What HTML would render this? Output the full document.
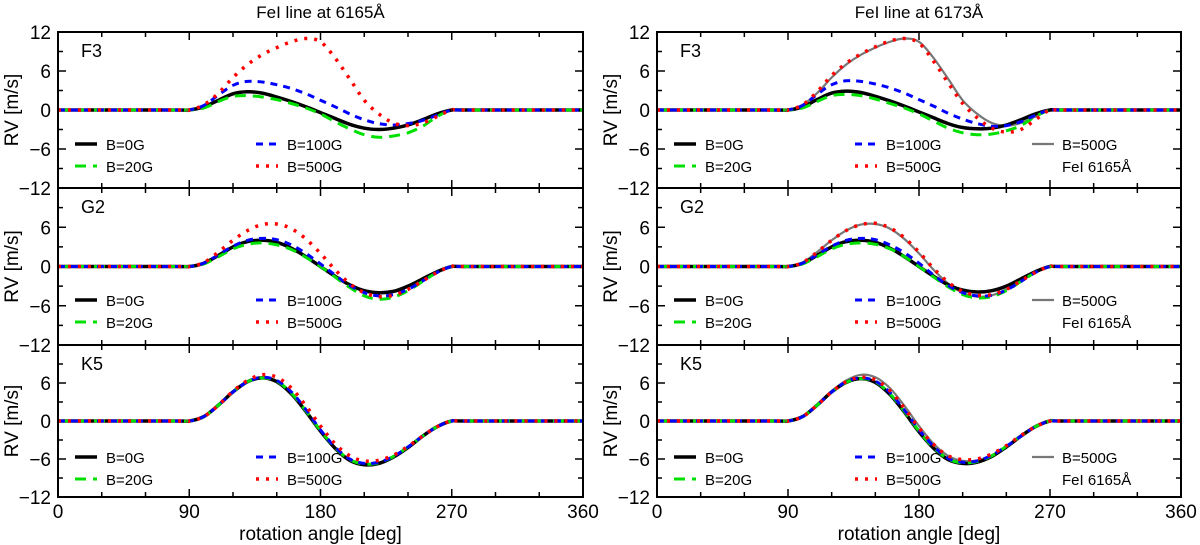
<!DOCTYPE html>
<html><head><meta charset="utf-8"><style>
body{margin:0;background:#fff;}
svg{display:block;font-family:"Liberation Sans",sans-serif;}
</style></head><body>
<svg id="fig" width="1200" height="545" xmlns="http://www.w3.org/2000/svg"></svg>
<script>
const angles=[0,80,90,100,110,120,130,140,150,160,170,180,190,200,210,220,230,240,250,260,270,280,360];
// F3 6165
const f3a_b0=[0,0,0,0.5,1.5,2.5,2.8,2.6,2.0,1.3,0.5,-0.4,-1.3,-2.2,-2.8,-3.0,-2.8,-2.3,-1.5,-0.6,0,0,0];
const f3a_b20=[0,0,0,0.3,1.3,2.1,2.2,2.0,1.6,1.0,0.3,-0.6,-1.8,-2.9,-3.8,-4.2,-4.0,-3.5,-2.5,-1.0,0,0,0];
const f3a_b100=[0,0,0,0.7,2.3,3.8,4.4,4.3,3.9,3.3,2.5,1.5,0.5,-0.6,-1.5,-2.1,-2.3,-2.1,-1.6,-0.8,0,0,0];
const f3a_b500=[0,0,0,0.8,2.6,5.0,7.0,8.5,9.6,10.5,11.0,10.5,8.0,4.8,1.5,-0.6,-2.0,-2.4,-2.0,-1.0,0,0,0];
// F3 6173
const f3b_b0=[0,0,0,0.5,1.6,2.6,2.9,2.7,2.1,1.4,0.6,-0.3,-1.2,-2.1,-2.7,-2.9,-2.8,-2.3,-1.5,-0.6,0,0,0];
const f3b_b20=[0,0,0,0.3,1.3,2.2,2.4,2.2,1.7,1.0,0.3,-0.6,-1.7,-2.8,-3.5,-3.8,-3.7,-3.2,-2.4,-1.0,0,0,0];
const f3b_b100=[0,0,0,0.7,2.4,3.9,4.5,4.4,4.0,3.4,2.6,1.6,0.6,-0.5,-1.4,-2.1,-2.5,-2.4,-1.8,-0.8,0,0,0];
const f3b_b500=[0,0,0,0.8,2.8,5.3,7.2,8.6,9.7,10.6,11.0,10.3,7.5,4.2,1.0,-1.2,-2.8,-3.4,-3.0,-1.5,0,0,0];
// G2 6165
const g2a_b0=[0,0,0,0.5,1.7,3.0,3.8,4.0,3.7,2.8,1.5,0,-1.5,-2.8,-3.7,-4.0,-3.8,-3.0,-1.9,-0.8,0,0,0];
const g2a_b20=[0,0,0,0.4,1.5,2.7,3.4,3.6,3.3,2.6,1.4,0,-1.6,-3.2,-4.5,-5.0,-4.7,-3.7,-2.3,-0.9,0,0,0];
const g2a_b100=[0,0,0,0.5,1.8,3.1,4.0,4.3,4.1,3.3,2.0,0.4,-1.3,-2.9,-4.0,-4.5,-4.3,-3.5,-2.2,-0.9,0,0,0];
const g2a_b500=[0,0,0,0.6,2.2,4.0,5.5,6.4,6.5,5.8,4.2,2.0,-0.5,-2.6,-4.0,-4.6,-4.4,-3.5,-2.2,-0.9,0,0,0];
// G2 6173
const g2b_b0=[0,0,0,0.5,1.7,3.0,3.8,4.0,3.7,2.8,1.5,0,-1.5,-2.8,-3.6,-3.9,-3.7,-3.0,-1.9,-0.8,0,0,0];
const g2b_b20=[0,0,0,0.4,1.5,2.7,3.4,3.6,3.4,2.7,1.5,0,-1.6,-3.1,-4.3,-4.8,-4.6,-3.7,-2.3,-0.9,0,0,0];
const g2b_b100=[0,0,0,0.5,1.8,3.1,4.0,4.3,4.1,3.3,2.1,0.5,-1.3,-2.9,-4.0,-4.5,-4.4,-3.6,-2.3,-0.9,0,0,0];
const g2b_b500=[0,0,0,0.6,2.2,4.0,5.5,6.4,6.6,5.9,4.4,2.2,-0.3,-2.4,-3.8,-4.4,-4.3,-3.5,-2.2,-0.9,0,0,0];
// K5 6165
const k5a_b0=[0,0,0,0.7,2.5,4.6,6.2,6.8,6.2,4.3,1.5,-1.6,-4.3,-6.2,-6.9,-6.7,-5.7,-4.2,-2.4,-0.9,0,0,0];
const k5a_b20=[0,0,0,0.7,2.5,4.6,6.2,6.8,6.3,4.4,1.6,-1.5,-4.2,-6.1,-6.8,-6.6,-5.6,-4.1,-2.4,-0.9,0,0,0];
const k5a_b100=[0,0,0,0.7,2.5,4.6,6.2,6.9,6.4,4.6,1.8,-1.4,-4.1,-6.0,-6.7,-6.5,-5.6,-4.1,-2.4,-0.9,0,0,0];
const k5a_b500=[0,0,0,0.7,2.5,4.7,6.4,7.3,6.9,5.2,2.4,-0.8,-3.6,-5.5,-6.3,-6.2,-5.4,-4.0,-2.4,-0.9,0,0,0];
// K5 6173
const k5b_b0=[0,0,0,0.7,2.5,4.6,6.1,6.7,6.1,4.2,1.4,-1.7,-4.3,-6.1,-6.7,-6.5,-5.6,-4.1,-2.4,-0.9,0,0,0];
const k5b_b20=[0,0,0,0.7,2.5,4.6,6.1,6.7,6.2,4.3,1.5,-1.6,-4.2,-6.0,-6.6,-6.4,-5.5,-4.0,-2.4,-0.9,0,0,0];
const k5b_b100=[0,0,0,0.7,2.5,4.6,6.2,6.8,6.3,4.5,1.7,-1.4,-4.0,-5.9,-6.5,-6.3,-5.4,-4.0,-2.4,-0.9,0,0,0];
const k5b_b500=[0,0,0,0.7,2.5,4.6,6.2,6.9,6.5,4.8,2.0,-1.1,-3.7,-5.5,-6.1,-6.0,-5.2,-3.9,-2.3,-0.9,0,0,0];
const xTicks=[0,90,180,270,360];
const yTicks=[-12,-6,0,6,12];
const titles=["FeI line at 6165Å","FeI line at 6173Å"];
const starNames=["F3","G2","K5"];

const NS="http://www.w3.org/2000/svg";
const svg=document.getElementById('fig');
function mk(tag,attrs,parent){const e=document.createElementNS(NS,tag);for(const k in attrs)e.setAttribute(k,attrs[k]);(parent||svg).appendChild(e);return e;}
const cols=[[58,583],[657,1181]];
const rows=[[32,188],[188,345],[345,497]];
const styles={
 b0:{stroke:"#000","stroke-width":3.5},
 b20:{stroke:"#00e000","stroke-width":3,"stroke-dasharray":"11 7"},
 b100:{stroke:"#0000ff","stroke-width":3,"stroke-dasharray":"7 6"},
 b500:{stroke:"#ff0000","stroke-width":3.5,"stroke-dasharray":"3 7"},
 grey:{stroke:"#777","stroke-width":2.2}
};
const data=[[[f3a_b0,f3a_b20,f3a_b100,f3a_b500],[f3b_b0,f3b_b20,f3b_b100,f3b_b500,f3a_b500]],
 [[g2a_b0,g2a_b20,g2a_b100,g2a_b500],[g2b_b0,g2b_b20,g2b_b100,g2b_b500,g2a_b500]],
 [[k5a_b0,k5a_b20,k5a_b100,k5a_b500],[k5b_b0,k5b_b20,k5b_b100,k5b_b500,k5a_b500]]];
const keys=["b0","b20","b100","b500","grey"];
const keyNames=["b-0g","b-20g","b-100g","b-500g","fei-6165-b-500g"];
function pathFrom(xs,ys,X,Y){
 const p=xs.map((a,i)=>[X(a),Y(ys[i])]);
 let d="M"+p[0][0]+","+p[0][1];
 for(let i=0;i<p.length-1;i++){
  const p0=p[Math.max(0,i-1)],p1=p[i],p2=p[i+1],p3=p[Math.min(p.length-1,i+2)];
  const c1=[p1[0]+(p2[0]-p0[0])/6,p1[1]+(p2[1]-p0[1])/6];
  const c2=[p2[0]-(p3[0]-p1[0])/6,p2[1]-(p3[1]-p1[1])/6];
  d+=` C${c1[0].toFixed(1)},${c1[1].toFixed(1)} ${c2[0].toFixed(1)},${c2[1].toFixed(1)} ${p2[0].toFixed(1)},${p2[1].toFixed(1)}`;
 }
 return d;
}
for(let c=0;c<2;c++){
 const [x0,x1]=cols[c];
 const X=a=>x0+(a/360)*(x1-x0);
 const t=mk('text',{x:(x0+x1)/2,y:18,"text-anchor":"middle","font-size":17});
 t.textContent=titles[c];
 
 
 for(let r=0;r<3;r++){
  const [y0,y1]=rows[r];
  const Y=v=>y1-(v+12)/24*(y1-y0);
  const g=mk('g',{});
  
  
  for(let a=0;a<=360;a+=30){
   const len=(a%90===0)?8:5;
   mk('line',{x1:X(a),x2:X(a),y1:y1,y2:y1-len,stroke:"#000","stroke-width":1.5},g);
   mk('line',{x1:X(a),x2:X(a),y1:y0,y2:y0+len,stroke:"#000","stroke-width":1.5},g);
  }
  for(let v=-12;v<=12;v+=3){
   const len=(v%6===0)?8:5;
   mk('line',{x1:x0,x2:x0+len,y1:Y(v),y2:Y(v),stroke:"#000","stroke-width":1.5},g);
   mk('line',{x1:x1,x2:x1-len,y1:Y(v),y2:Y(v),stroke:"#000","stroke-width":1.5},g);
  }
  yTicks.forEach(v=>{
   if(r>0&&v===12)return;
   const tl=mk('text',{x:x0-7,y:Y(v)+7,"text-anchor":"end","font-size":19},g);
   tl.textContent=v<0?"−"+(-v):String(v);
   
   
  });
  const yl=mk('text',{transform:`translate(${x0-40},${(y0+y1)/2}) rotate(-90)`,"text-anchor":"middle","font-size":19},g);
  yl.textContent="RV [m/s]";
  
  
  const sn=mk('text',{x:x0+23,y:y0+25,"font-size":18},g);
  sn.textContent=starNames[r];
  
  
  const series=data[r][c];
  const order=c?[4,0,1,2,3]:[0,1,2,3];
  order.forEach(i=>{
   const p=mk('path',Object.assign({d:pathFrom(angles,series[i],X,Y),fill:"none","stroke-linecap":"butt"},styles[keys[i]]),g);
   
   
  });
  const labels=["B=0G","B=20G","B=100G","B=500G"];
  const pos=[[x0+17,y0+118],[x0+17,y0+140],[x0+198,y0+118],[x0+198,y0+140]];
  labels.forEach((lb,i)=>{
   const [lx,ly]=pos[i];
   mk('line',Object.assign({x1:lx,x2:lx+22,y1:ly-6,y2:ly-6},styles[keys[i]]),g);
   const tx=mk('text',{x:lx+31,y:ly,"font-size":15},g);
   tx.textContent=lb;
   
   
  });
  if(c===1){
   mk('line',Object.assign({x1:x0+375,x2:x0+397,y1:y0+112,y2:y0+112},styles.grey),g);
   const tx=mk('text',{x:x0+405,y:y0+118,"font-size":15},g);
   tx.textContent="B=500G";
   
   
   const tx2=mk('text',{x:x0+405,y:y0+140,"font-size":15},g);
   tx2.textContent="FeI 6165Å";
   
   
  }
  mk('rect',{x:x0,y:y0,width:x1-x0,height:y1-y0,fill:"none",stroke:"#000","stroke-width":2},g);
 }
 xTicks.forEach(a=>{
  const tl=mk('text',{x:X(a),y:518,"text-anchor":"middle","font-size":19});
  tl.textContent=String(a);
  
  
 });
 const xl=mk('text',{x:(x0+x1)/2,y:540,"text-anchor":"middle","font-size":19});
 xl.textContent="rotation angle [deg]";
 
 
}
</script>
</body></html>
